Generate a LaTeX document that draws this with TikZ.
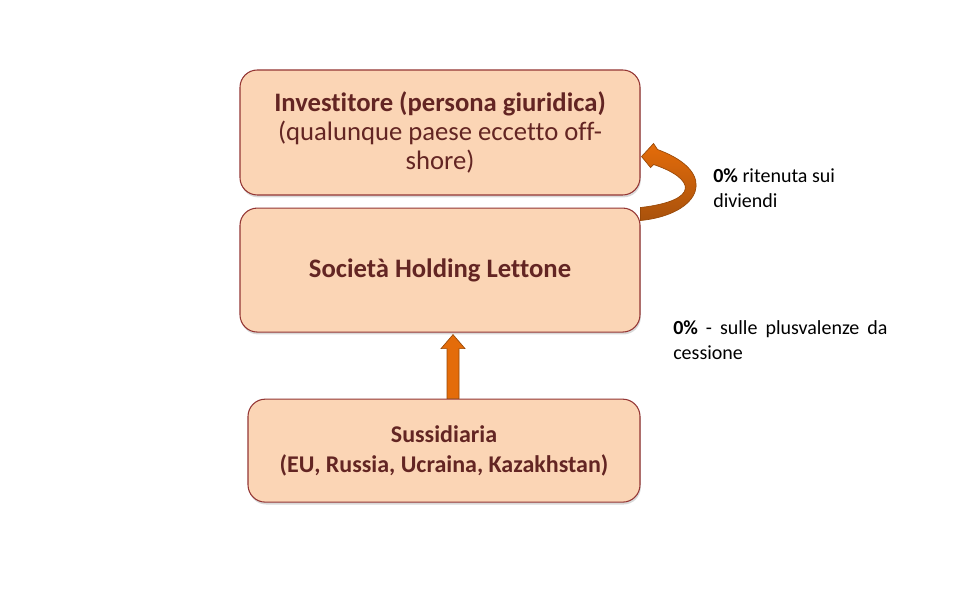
\documentclass[tikz,border=0pt]{standalone}
\usepackage{fontspec}
\setmainfont{Carlito}[Ligatures=NoCommon]
\usetikzlibrary{positioning,calc,shadows}
\definecolor{boxfill}{HTML}{FBD5B5}
\definecolor{boxline}{HTML}{943634}
\definecolor{boxtext}{HTML}{632523}
\definecolor{arrowfill}{HTML}{E46C0A}
\definecolor{arrowdark}{HTML}{A9520C}
\definecolor{arrowline}{HTML}{984807}
\tikzset{
  holdbox/.style={draw=boxline, fill=boxfill, rounded corners=13pt, line width=0.8pt,
    align=center, text=boxtext, minimum width=300pt,
    drop shadow={shadow xshift=0.6pt, shadow yshift=-1.8pt, opacity=0.3}},
  taxlabel/.style={align=left, anchor=west, inner sep=0pt,
    font=\fontsize{15}{19}\selectfont},
  blockarrow/.style={draw=arrowline, line width=0.5pt}
}

\begin{document}
\begin{tikzpicture}[x=0.75pt, y=-0.75pt]
    \useasboundingbox (0,0) rectangle (960,605);
    \node[holdbox, minimum height=93.75pt, font=\fontsize{20}{22}\selectfont] (inv) at (440,132.5)
      {\textbf{Investitore (persona giuridica)}\\(qualunque paese eccetto off-\\shore)};
    \node[holdbox, below=9pt of inv, minimum height=93pt, font=\fontsize{20}{22}\selectfont\bfseries] (hold)
      {Società Holding Lettone};
    \node[holdbox, below=49.5pt of hold, xshift=3pt, minimum width=294pt, minimum height=77.25pt,
      font=\fontsize{18}{22.5}\selectfont\bfseries] (sub)
      {Sussidiaria\\(EU, Russia, Ucraina, Kazakhstan)};
    \node[taxlabel] (divlbl) at (713,188) {\textbf{0\%} ritenuta sui\\diviendi};
    \node[taxlabel] (caplbl) at (673,340)
      {\spaceskip=6pt\relax\textbf{0\%} - sulle plusvalenze da\\cessione};
    % curved arrow: holding -> investor
    \coordinate (c) at (hold.north east);
    \draw[blockarrow, top color=arrowfill, bottom color=arrowdark]
      ($(c)+(0,13)$) .. controls ($(c)+(60,7)$) and ($(c)+(80,-35)$) .. ($(c)+(17,-58)$)
      -- ($(c)+(13,-64)$) -- ($(c)+(1,-51)$) -- ($(c)+(10,-40)$) -- ($(c)+(13,-43)$)
      .. controls ($(c)+(55,-29)$) and ($(c)+(60,-7)$) .. ($(c)+(0,0)$) -- cycle;
    % straight arrow: subsidiary -> holding
    \coordinate (up) at ($(sub.north)+(9,0)$);
    \draw[blockarrow, fill=arrowfill]
      ($(up)+(-6,0)$) -- ($(up)+(-6,-50)$) -- ($(up)+(-12,-50)$) -- ($(up)+(0,-64)$)
      -- ($(up)+(12,-50)$) -- ($(up)+(6,-50)$) -- ($(up)+(6,0)$) -- cycle;
\end{tikzpicture}
\end{document}
